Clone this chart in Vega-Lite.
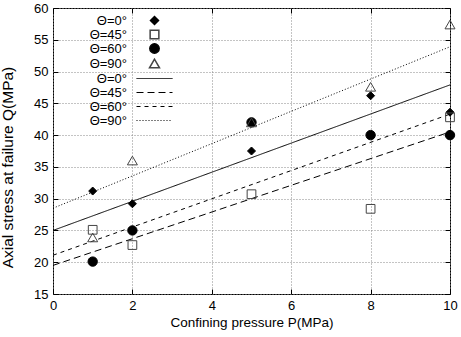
{
  "$schema": "https://vega.github.io/schema/vega-lite/v6.json",
  "autosize": "none",
  "padding": {"left": 53, "top": 8, "right": 11, "bottom": 43},
  "width": 397,
  "height": 286,
  "config": {
    "font": "Liberation Sans",
    "view": {"stroke": "black", "strokeWidth": 1},
    "axis": {
      "labelFont": "Liberation Sans",
      "labelFontSize": 13,
      "labelColor": "black",
      "labelFlush": false,
      "labelOverlap": false,
      "titleFont": "Liberation Sans",
      "titleFontWeight": "normal",
      "titleColor": "black",
      "domain": false,
      "tickColor": "black",
      "tickSize": -5,
      "gridColor": "#888",
      "gridDash": [1, 2],
      "gridOpacity": 1,
      "gridWidth": 1
    },
    "legend": {
      "labelFont": "Liberation Sans",
      "labelFontSize": 13,
      "labelColor": "black",
      "padding": 0
    }
  },
  "resolve": {"axis": {"x": "independent", "y": "independent"}},
  "datasets": {
    "measured": [
      {"P": 1, "Q": 31.2, "theta": "Θ=0°"},
      {"P": 2, "Q": 29.2, "theta": "Θ=0°"},
      {"P": 5, "Q": 37.5, "theta": "Θ=0°"},
      {"P": 8, "Q": 46.2, "theta": "Θ=0°"},
      {"P": 10, "Q": 43.6, "theta": "Θ=0°"},
      {"P": 1, "Q": 25.1, "theta": "Θ=45°"},
      {"P": 2, "Q": 22.7, "theta": "Θ=45°"},
      {"P": 5, "Q": 30.7, "theta": "Θ=45°"},
      {"P": 8, "Q": 28.4, "theta": "Θ=45°"},
      {"P": 10, "Q": 42.8, "theta": "Θ=45°"},
      {"P": 1, "Q": 20.1, "theta": "Θ=60°"},
      {"P": 2, "Q": 25.0, "theta": "Θ=60°"},
      {"P": 5, "Q": 42.0, "theta": "Θ=60°"},
      {"P": 8, "Q": 40.0, "theta": "Θ=60°"},
      {"P": 10, "Q": 40.0, "theta": "Θ=60°"},
      {"P": 1, "Q": 23.9, "theta": "Θ=90°"},
      {"P": 2, "Q": 36.0, "theta": "Θ=90°"},
      {"P": 5, "Q": 42.0, "theta": "Θ=90°"},
      {"P": 8, "Q": 47.6, "theta": "Θ=90°"},
      {"P": 10, "Q": 57.4, "theta": "Θ=90°"}
    ],
    "fitted": [
      {"P": 0, "Q": 25.0, "fit": "0"},
      {"P": 10, "Q": 47.9, "fit": "0"},
      {"P": 0, "Q": 19.5, "fit": "45"},
      {"P": 10, "Q": 40.5, "fit": "45"},
      {"P": 0, "Q": 21.1, "fit": "60"},
      {"P": 10, "Q": 43.3, "fit": "60"},
      {"P": 0, "Q": 28.5, "fit": "90"},
      {"P": 10, "Q": 53.9, "fit": "90"}
    ]
  },
  "layer": [
    {
      "description": "opaque key box, plus the grid and the mirrored inward ticks on the top and right borders",
      "mark": {"type": "rect", "fill": "white", "stroke": null},
      "encoding": {
        "x": {
          "datum": 0, "type": "quantitative",
          "scale": {"domain": [0, 10], "nice": false, "zero": false},
          "axis": {"orient": "top", "values": [0, 2, 4, 6, 8, 10], "labels": false, "grid": true, "title": null}
        },
        "x2": {"datum": 3.2},
        "y": {
          "datum": 40.6, "type": "quantitative",
          "scale": {"domain": [15, 60], "nice": false, "zero": false},
          "axis": {"orient": "right", "values": [15, 20, 25, 30, 35, 40, 45, 50, 55, 60], "labels": false, "grid": true, "title": null}
        },
        "y2": {"datum": 60}
      }
    },
    {
      "data": {"name": "fitted"},
      "mark": {"type": "line", "color": "black", "strokeWidth": 1, "clip": true},
      "encoding": {
        "x": {
          "field": "P", "type": "quantitative",
          "axis": {"values": [0, 2, 4, 6, 8, 10], "grid": false, "labelPadding": 10, "title": "Confining pressure P(MPa)", "titleFontSize": 13.5, "titlePadding": 3}
        },
        "y": {
          "field": "Q", "type": "quantitative",
          "axis": {"values": [15, 20, 25, 30, 35, 40, 45, 50, 55, 60], "grid": false, "labelPadding": 10, "title": "Axial stress at failure Q(MPa)", "titleFontSize": 15.5, "titlePadding": 18, "titleY": 159}
        },
        "strokeDash": {
          "field": "fit", "type": "nominal",
          "scale": {
            "domain": ["0", "45", "60", "90"],
            "range": [[1, 0], [7, 4], [4, 4], [1, 2]]
          },
          "legend": {
            "title": null,
            "orient": "none",
            "legendX": 95,
            "legendY": 64,
            "rowPadding": -1.8,
            "symbolType": "M-3,0H3",
            "symbolSize": 144,
            "symbolStrokeColor": "black",
            "symbolStrokeWidth": 1,
            "labelAlign": "right",
            "labelOffset": -34,
            "labelExpr": "'Θ=' + datum.label + '°'"
          }
        }
      }
    },
    {
      "data": {"name": "measured"},
      "mark": {"type": "point", "opacity": 1, "strokeWidth": 1},
      "encoding": {
        "x": {"field": "P", "type": "quantitative", "axis": null},
        "y": {"field": "Q", "type": "quantitative", "axis": null},
        "shape": {
          "field": "theta", "type": "nominal",
          "scale": {
            "domain": ["Θ=0°", "Θ=45°", "Θ=60°", "Θ=90°"],
            "range": ["diamond", "square", "circle", "triangle-up"]
          },
          "legend": {
            "title": null,
            "orient": "none",
            "legendX": 95,
            "legendY": 6,
            "rowPadding": -3.5,
            "labelAlign": "right",
            "labelOffset": -34
          }
        },
        "fill": {
          "field": "theta", "type": "nominal",
          "scale": {
            "domain": ["Θ=0°", "Θ=45°", "Θ=60°", "Θ=90°"],
            "range": ["black", "transparent", "black", "transparent"]
          }
        },
        "stroke": {
          "field": "theta", "type": "nominal",
          "scale": {
            "domain": ["Θ=0°", "Θ=45°", "Θ=60°", "Θ=90°"],
            "range": ["black", "#444", "black", "#444"]
          }
        },
        "size": {
          "field": "theta", "type": "nominal",
          "scale": {
            "domain": ["Θ=0°", "Θ=45°", "Θ=60°", "Θ=90°"],
            "range": [64, 100, 115, 100]
          }
        }
      }
    }
  ]
}
